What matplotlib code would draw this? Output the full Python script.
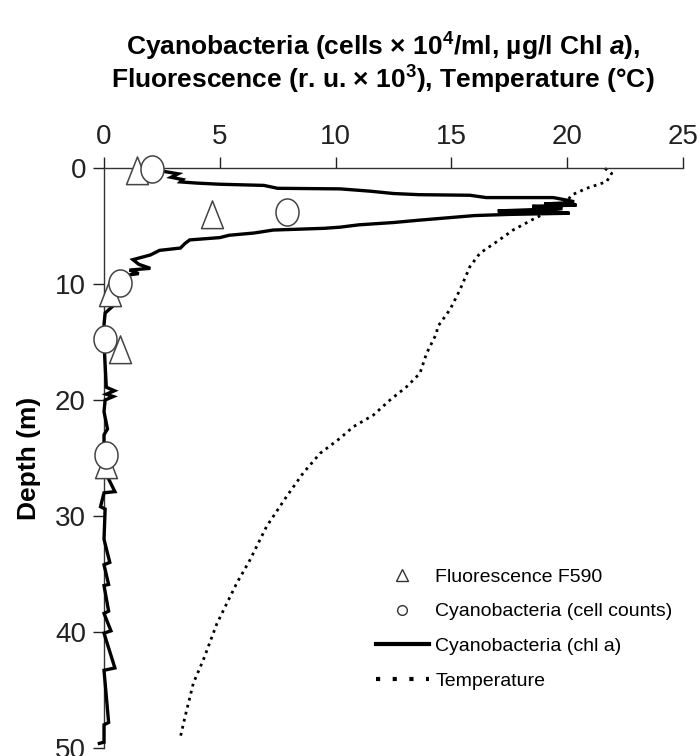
import matplotlib
matplotlib.use("Agg")
import matplotlib.pyplot as plt
from matplotlib import font_manager
from matplotlib.lines import Line2D
from matplotlib.path import Path
import numpy as np

avail = {f.name for f in font_manager.fontManager.ttflist}
FONT = "Liberation Sans Narrow" if "Liberation Sans Narrow" in avail else "Liberation Sans"
plt.rcParams["font.family"] = [FONT, "DejaVu Sans"]
plt.rcParams["mathtext.fontset"] = "custom"
plt.rcParams["mathtext.rm"] = FONT + ":bold"
plt.rcParams["mathtext.it"] = FONT + ":italic:bold"

# ---------------- data ----------------
# Cyanobacteria chl a profile (ug/l) vs depth (m)
chl_depth = [0.3, 0.5, 0.8, 1.0, 1.2, 1.3, 1.4, 1.5, 1.75, 1.8, 2.0, 2.2, 2.3, 2.35,
             2.55, 2.55, 2.7, 2.9, 3.0, 3.1, 3.2, 3.3, 3.5, 3.7, 3.8, 3.9, 4.0, 4.1,
             4.3, 4.5, 4.7, 4.9, 5.1, 5.2, 5.35, 5.6, 5.8, 6.0, 6.2, 6.5, 6.9, 7.1,
             7.5, 7.9, 8.3, 8.65, 8.8, 9.1, 9.3, 10.0, 10.5, 11.0, 11.6, 12.0, 12.5,
             13.5, 15.0, 17.0, 18.9, 19.2, 19.5, 19.7, 20.0, 21.0, 22.5, 23.0, 26.0,
             27.9, 28.0, 29.2, 29.4, 32.0, 34.0, 34.2, 35.9, 36.0, 38.2, 38.4, 39.9,
             40.1, 43.1, 43.3, 47.8, 48.0, 49.5, 49.6]
chl_value = [2.6, 3.2, 2.9, 3.4, 3.3, 4.0, 5.0, 6.9, 7.5, 10.2, 11.5, 12.5, 13.6, 15.8,
             16.5, 19.4, 19.8, 20.3, 20.0, 19.0, 20.4, 18.5, 19.8, 17.0, 19.5, 20.1, 17.5, 16.0,
             14.8, 13.6, 12.5, 11.0, 10.2, 9.5, 7.3, 6.5, 5.4, 5.0, 3.7, 3.5, 3.3, 2.4,
             2.0, 1.25, 1.5, 2.0, 1.1, 1.5, 0.8, 0.6, 0.3, 0.1, 0.05, 0.33, 0.05,
             0.0, 0.0, 0.05, 0.1, 0.45, 0.1, 0.4, 0.05, 0.0, 0.15, 0.0, 0.0,
             0.47, 0.0, -0.15, 0.05, 0.0, 0.25, 0.0, 0.2, 0.0, 0.2, 0.0, 0.3,
             0.0, 0.47, 0.0, 0.2, 0.0, 0.0, -0.2]

# Temperature (deg C) vs depth (m)
temp_depth = [0.03, 0.46, 1.18, 1.75, 2.33, 2.9, 3.62, 4.48, 5.34, 6.35, 7.35, 8.5,
              10.5, 12.2, 13.7, 14.25, 15.97, 17.7, 18.85, 20.0, 21.3, 22.3, 23.3,
              24.6, 26.3, 28.3, 30.9, 33.8, 35.8, 39.3, 42.4, 44.4, 47.3, 49.2]
temp_value = [21.63, 21.92, 21.7, 20.84, 20.19, 19.98, 19.33, 18.47, 17.67, 16.96,
              16.23, 15.8, 15.37, 14.94, 14.4, 14.36, 13.93, 13.64, 13.07, 12.35,
              11.63, 10.77, 10.19, 9.33, 8.6, 7.89, 7.02, 6.3, 5.73, 4.87, 4.29,
              3.86, 3.5, 3.28]

# Cell counts (cells x 10^4/ml)
cell_depth = [0.1, 3.77, 9.94, 14.7, 24.7]
cell_value = [2.06, 7.89, 0.69, 0.04, 0.1]

# Fluorescence F590 (r.u. x 10^3)
fluo_depth = [0.3, 4.05, 10.8, 15.7, 25.6]
fluo_value = [1.41, 4.65, 0.26, 0.69, 0.1]

x_ticks = [0, 5, 10, 15, 20, 25]
y_ticks = [0, 10, 20, 30, 40, 50]

# ---------------- figure ----------------
W, H = 699, 756
fig = plt.figure(figsize=(W / 100, H / 100), dpi=100)
ax = fig.add_axes([104 / W, 1 - 748 / H, (683 - 104) / W, (748 - 168) / H])

# custom tall markers
t = np.linspace(0, 2 * np.pi, 60)
ell = Path(np.column_stack([0.85 * np.cos(t), np.sin(t)]), closed=True)
tri = Path([(-0.75, -0.9), (0.75, -0.9), (0.0, 1.0), (-0.75, -0.9)], closed=True)

ax.plot(temp_value, temp_depth, color="black", lw=2.0, linestyle=(0, (1, 1.6)),
        clip_on=False, zorder=2)
ax.plot(chl_value, chl_depth, color="black", lw=2.4, clip_on=False, zorder=3,
        solid_joinstyle="miter")
ax.plot(fluo_value, fluo_depth, linestyle="none", marker=tri, markersize=21,
        markerfacecolor="white", markeredgecolor="#444444", markeredgewidth=1.1,
        clip_on=False, zorder=4)
ax.plot(cell_value, cell_depth, linestyle="none", marker=ell, markersize=19.5,
        markerfacecolor="white", markeredgecolor="#444444", markeredgewidth=1.1,
        clip_on=False, zorder=5)

ax.set_xlim(0, 25)
ax.set_ylim(50, 0)
ax.xaxis.tick_top()
ax.set_xticks(x_ticks)
ax.set_yticks(y_ticks)
ax.tick_params(axis="both", direction="out", length=8, width=1.0, labelsize=20,
               colors="#222222", pad=5)
for s in ["right", "bottom"]:
    ax.spines[s].set_visible(False)
for s in ["top", "left"]:
    ax.spines[s].set_linewidth(1.0)
    ax.spines[s].set_color("#333333")

ax.set_ylabel("Depth (m)", fontsize=19, fontweight="bold")
ax.yaxis.set_label_coords(-0.108, 0.5)

fig.text(0.548, 1 - 47 / H, "Cyanobacteria (cells \u00d7 10$^4$/ml, \u00b5g/l Chl $a$),",
         ha="center", va="center", fontsize=19, fontweight="bold")
fig.text(0.548, 1 - 80 / H, "Fluorescence (r. u. \u00d7 10$^3$), Temperature (\u00b0C)",
         ha="center", va="center", fontsize=19, fontweight="bold")

handles = [
    Line2D([], [], linestyle="none", marker="^", markersize=8, markerfacecolor="white",
           markeredgecolor="#333333", markeredgewidth=1.0),
    Line2D([], [], linestyle="none", marker="o", markersize=7, markerfacecolor="white",
           markeredgecolor="#333333", markeredgewidth=1.0),
    Line2D([], [], color="black", lw=3),
    Line2D([], [], color="black", lw=3, linestyle=(0, (1, 3.0))),
]
labels = ["Fluorescence F590", "Cyanobacteria (cell counts)",
          "Cyanobacteria (chl a)", "Temperature"]
leg = ax.legend(handles, labels, loc="upper left", bbox_to_anchor=(376 / W, 1 - 568 / H),
                bbox_transform=fig.transFigure, frameon=False, fontsize=14,
                handlelength=2.7, handletextpad=0.35, labelspacing=0.88, borderpad=0,
                borderaxespad=0)

fig.savefig("out.png", dpi=100)
